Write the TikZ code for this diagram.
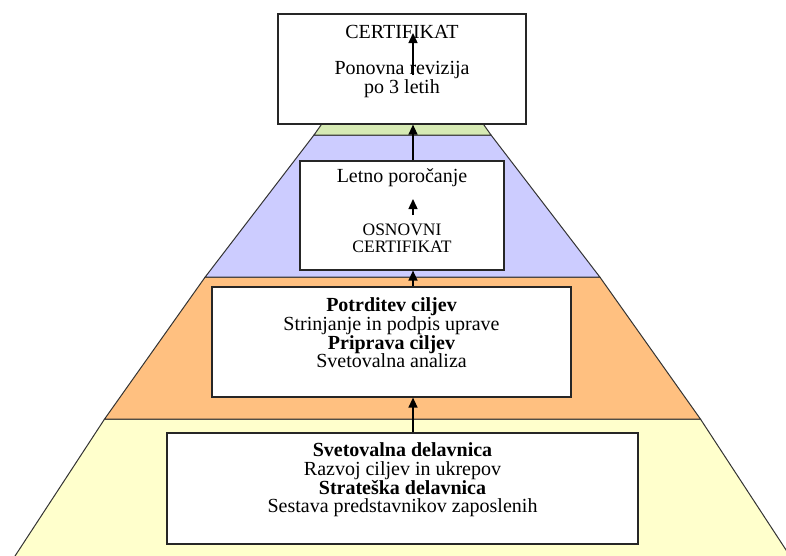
\documentclass[tikz,border=0pt]{standalone}
\usepackage{fontspec}
\setmainfont{Liberation Serif}
\usetikzlibrary{arrows.meta}
\definecolor{bandgreen}{RGB}{214,234,180}
\definecolor{bandblue}{RGB}{204,204,255}
\definecolor{bandorange}{RGB}{255,192,128}
\definecolor{bandyellow}{RGB}{255,255,204}
\tikzset{
  band/.style={draw=black!80, line width=1pt, line join=miter},
  box/.style={draw=black!85, line width=1.2pt, fill=white, inner sep=0pt},
  txt/.style={align=center, inner sep=0pt, text=black},
  arr/.style={line width=1.4pt, -{Triangle[length=10pt,width=9pt]}},
}
\begin{document}
\begin{tikzpicture}[x=1pt,y=-1pt]
\useasboundingbox (0,0) rectangle (786,555);
% pyramid bands (apex 402.5,10; half width 0.711 per unit)
\fill[bandyellow] (104.6,419) -- (700.4,419) -- (792.6,560) -- (12.4,560) -- cycle;
\draw[band] (12.4,560) -- (104.6,419) -- (700.4,419) -- (792.6,560);
\draw[band, fill=bandorange] (205.2,277) -- (599.8,277) -- (700.4,419) -- (104.6,419) -- cycle;
\draw[band, fill=bandblue] (314.0,135) -- (491.0,135) -- (599.8,277) -- (205.2,277) -- cycle;
\draw[band, fill=bandgreen] (331.6,110) -- (473.4,110) -- (491.0,135) -- (314.0,135) -- cycle;
% boxes
\node[box, minimum width=248pt, minimum height=110pt] (cert) at (402,69) {};
\node[box, minimum width=204pt, minimum height=109pt] (osn) at (402,215.5) {};
\node[box, minimum width=359pt, minimum height=110pt] (cilj) at (391.5,342) {};
\node[box, minimum width=471pt, minimum height=111pt] (delav) at (402.5,488.5) {};
% texts
\node[txt, font=\fontsize{20}{18.7}\selectfont] (t1) at (402,32) {CERTIFIKAT};
\node[txt, font=\fontsize{20}{18.7}\selectfont] (t2) at (402,79.5) {Ponovna revizija\\po 3 letih};
\node[txt, font=\fontsize{20}{18.7}\selectfont] (t3) at (402,178) {Letno poročanje};
\node[txt, font=\fontsize{17.5}{17}\selectfont] (t4) at (402,238.5) {OSNOVNI\\CERTIFIKAT};
\node[txt, font=\fontsize{20}{18.7}\selectfont] (t5) at (391.5,333) {\textbf{Potrditev ciljev}\\Strinjanje in podpis uprave\\\textbf{Priprava ciljev}\\Svetovalna analiza};
\node[txt, font=\fontsize{20}{18.3}\selectfont] (t6) at (402.5,480) {\textbf{Svetovalna delavnica}\\Razvoj ciljev in ukrepov\\\textbf{Strateška delavnica}\\Sestava predstavnikov zaposlenih};
% arrows
\coordinate (ax) at (413,0);
\coordinate (s1) at (413,75);
\coordinate (e1) at (413,33);
\coordinate (s2) at (413,215);
\coordinate (e2) at (413,199);
\draw[arr] (delav.north -| ax) -- (cilj.south -| ax);
\draw[arr] (cilj.north -| ax) -- (osn.south -| ax);
\draw[arr] (osn.north -| ax) -- (cert.south -| ax);
\draw[arr] (s2) -- (e2);
\draw[arr] (s1) -- (e1);
\end{tikzpicture}
\end{document}
